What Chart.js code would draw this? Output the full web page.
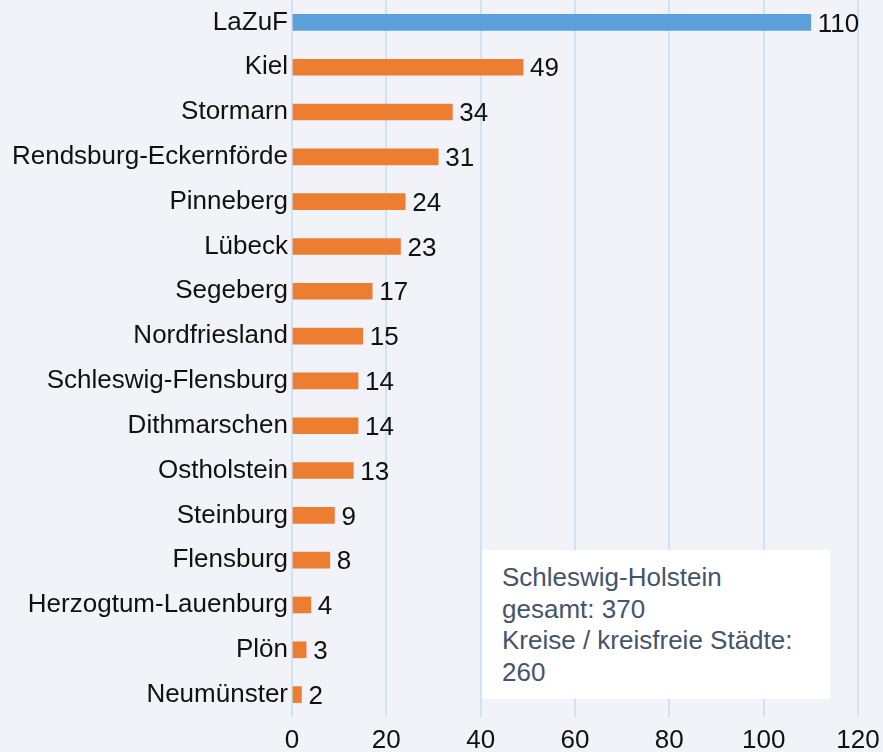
<!DOCTYPE html>
<html>
<head>
<meta charset="utf-8">
<script src="https://cdn.jsdelivr.net/npm/chart.js@4/dist/chart.umd.min.js"></script>
<style>
  html,body{margin:0;padding:0;background:#f2f3f8;}
  #wrap{position:relative;width:883px;height:752px;}
  #note{position:absolute;left:482px;top:550px;width:348px;height:149px;box-sizing:border-box;background:#fff;
    padding:12px 0 0 20px;font:26px 'Liberation Sans',Arial,sans-serif;line-height:31.6px;color:#44546a;}
</style>
</head>
<body>
<div id="wrap">
  <canvas id="c" width="883" height="752"></canvas>
  <div id="note">Schleswig-Holstein<br>gesamt: 370<br>Kreise / kreisfreie Städte:<br>260</div>
</div>
<script>
/* Zulassungen nach Kreis */
const labels = ['LaZuF','Kiel','Stormarn','Rendsburg-Eckernförde','Pinneberg','Lübeck','Segeberg','Nordfriesland',
  'Schleswig-Flensburg','Dithmarschen','Ostholstein','Steinburg','Flensburg','Herzogtum-Lauenburg','Plön','Neumünster'];
const values = [110,49,34,31,24,23,17,15,14,14,13,9,8,4,3,2];
const xTicks = [0,20,40,60,80,100,120];

const C = { blue:'#5b9fdb', orange:'#ed7d31', grid:'#cce3fa', txt:'#111' };
const FONT = "'Liberation Sans',Arial,sans-serif";

const valueLabels = {
  id:'valueLabels',
  afterDatasetsDraw(chart){
    const ctx = chart.ctx;
    const meta = chart.getDatasetMeta(0);
    ctx.save();
    ctx.font = '26px ' + FONT;
    ctx.fillStyle = C.txt;
    ctx.textAlign = 'left';
    ctx.textBaseline = 'middle';
    meta.data.forEach((bar,i) => ctx.fillText(String(values[i]), bar.x + 7, bar.y + 2));
    ctx.restore();
  }
};

new Chart(document.getElementById('c'), {
  type:'bar',
  data:{ labels, datasets:[{ data:values, backgroundColor:values.map((_,i)=> i===0 ? C.blue : C.orange),
    barThickness:16, borderWidth:0 }]},
  options:{
    indexAxis:'y', responsive:false, animation:false,
    layout:{ padding:0 },
    plugins:{ legend:{display:false}, tooltip:{enabled:false} },
    scales:{
      x:{ min:0, max:120, afterBuildTicks: s => { s.ticks = xTicks.map(v=>({value:v})); },
        afterFit: s => { s.height = 35; s.paddingRight = 25; s.paddingLeft = 0; },
        grid:{ color:C.grid, lineWidth:2, drawTicks:false },
        border:{ display:false },
        ticks:{ color:C.txt, font:{family:FONT,size:26}, padding:8 } },
      y:{ grid:{ display:false, drawTicks:false }, border:{ display:false },
        afterFit: s => { s.width = 292; s.paddingTop = 0; s.paddingBottom = 0; },
        ticks:{ color:C.txt, font:{family:FONT,size:26}, padding:4 } }
    }
  },
  plugins:[valueLabels]
});
</script>
</body>
</html>
